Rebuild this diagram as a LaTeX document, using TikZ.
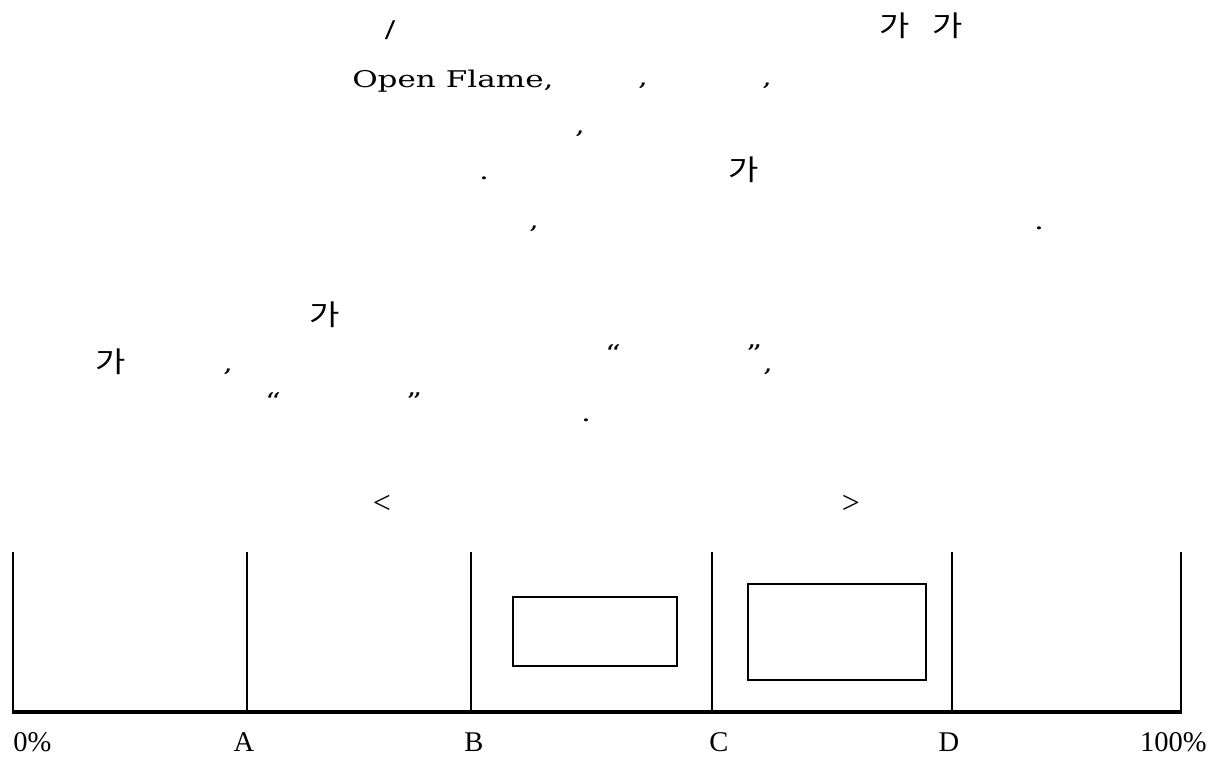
\documentclass[tikz,border=0pt]{standalone}
\usepackage{fontspec}
\setmainfont{DejaVu Serif}
\newfontfamily\bodyfont[FakeStretch=1.35]{DejaVu Serif}
\newfontfamily\kofont[FakeStretch=1.15]{Noto Sans CJK KR}
\newfontfamily\labelfont{Liberation Serif}

\tikzset{
  body/.style={font=\bodyfont\fontsize{17.25}{20}\selectfont, inner sep=0pt},
  ko/.style={font=\kofont\fontsize{21.5}{24}\selectfont, inner sep=0pt},
  axislabel/.style={font=\labelfont\fontsize{21.4}{24}\selectfont, inner sep=0pt, anchor=base},
  bracket/.style={font=\labelfont\fontsize{24}{26}\selectfont, inner sep=0pt},
  divider/.style={line width=2pt},
  scaleline/.style={line width=2.5pt},
  band/.style={draw, line width=1.4pt, inner sep=0pt},
}

\begin{document}
\begin{tikzpicture}[x=0.75pt, y=-0.75pt]
  \useasboundingbox (0,0) rectangle (1221,758);

  % paragraph one
  \node[body] (slash) at (390,30) {/};
  \node[ko] (ga1) at (895,26) {가};
  \node[ko] (ga2) at (948,26) {가};
  \node[body, anchor=base west] (flame) at (352,87) {Open Flame,};
  \node[body] (c21) at (643,86) {,};
  \node[body] (c22) at (767,86) {,};
  \node[body] (c31) at (580,134) {,};
  \node[body] (p41) at (484,178) {.};
  \node[ko] (ga3) at (744,170) {가};
  \node[body] (c51) at (534,229) {,};
  \node[body] (p51) at (1039,228) {.};

  % paragraph two
  \node[ko] (ga4) at (325,315) {가};
  \node[ko] (ga5) at (111,362) {가};
  \node[body] (c71) at (228,372) {,};
  \node[body] (q71) at (613,353) {“};
  \node[body] (q72) at (754,353) {”};
  \node[body] (c72) at (768,372) {,};
  \node[body] (q81) at (273,401) {“};
  \node[body] (q82) at (414,401) {”};
  \node[body] (p81) at (586,420) {.};

  % caption brackets
  \node[bracket] (lt) at (382,504) {<};
  \node[bracket] (gt) at (851,504) {>};

  % scale: divider tops and feet
  \coordinate (ztop) at (13,552);   \coordinate (zfoot) at (13,712);
  \coordinate (atop) at (247,552);  \coordinate (afoot) at (247,712);
  \coordinate (btop) at (471,552);  \coordinate (bfoot) at (471,712);
  \coordinate (ctop) at (712,552);  \coordinate (cfoot) at (712,712);
  \coordinate (dtop) at (952,552);  \coordinate (dfoot) at (952,712);
  \coordinate (etop) at (1181,552); \coordinate (efoot) at (1181,712);
  \foreach \name in {z, a, b, c, d, e}
    \draw[divider] (\name top) -- (\name foot);
  \draw[scaleline] ([xshift=-1pt]zfoot) -- ([xshift=1pt]efoot);

  % ranges inside the scale
  \node[band, minimum width=164*0.75pt, minimum height=69*0.75pt] (r1) at (595,631.5) {};
  \node[band, minimum width=178*0.75pt, minimum height=96*0.75pt] (r2) at (837,632) {};

  % scale labels
  \node[axislabel, anchor=base west] (l0) at (13,751) {0\%};
  \node[axislabel] (lA) at (244,751) {A};
  \node[axislabel] (lB) at (474,751) {B};
  \node[axislabel] (lC) at (719,751) {C};
  \node[axislabel] (lD) at (949,751) {D};
  \node[axislabel, anchor=base east] (l100) at (1207,751) {100\%};
\end{tikzpicture}
\end{document}
